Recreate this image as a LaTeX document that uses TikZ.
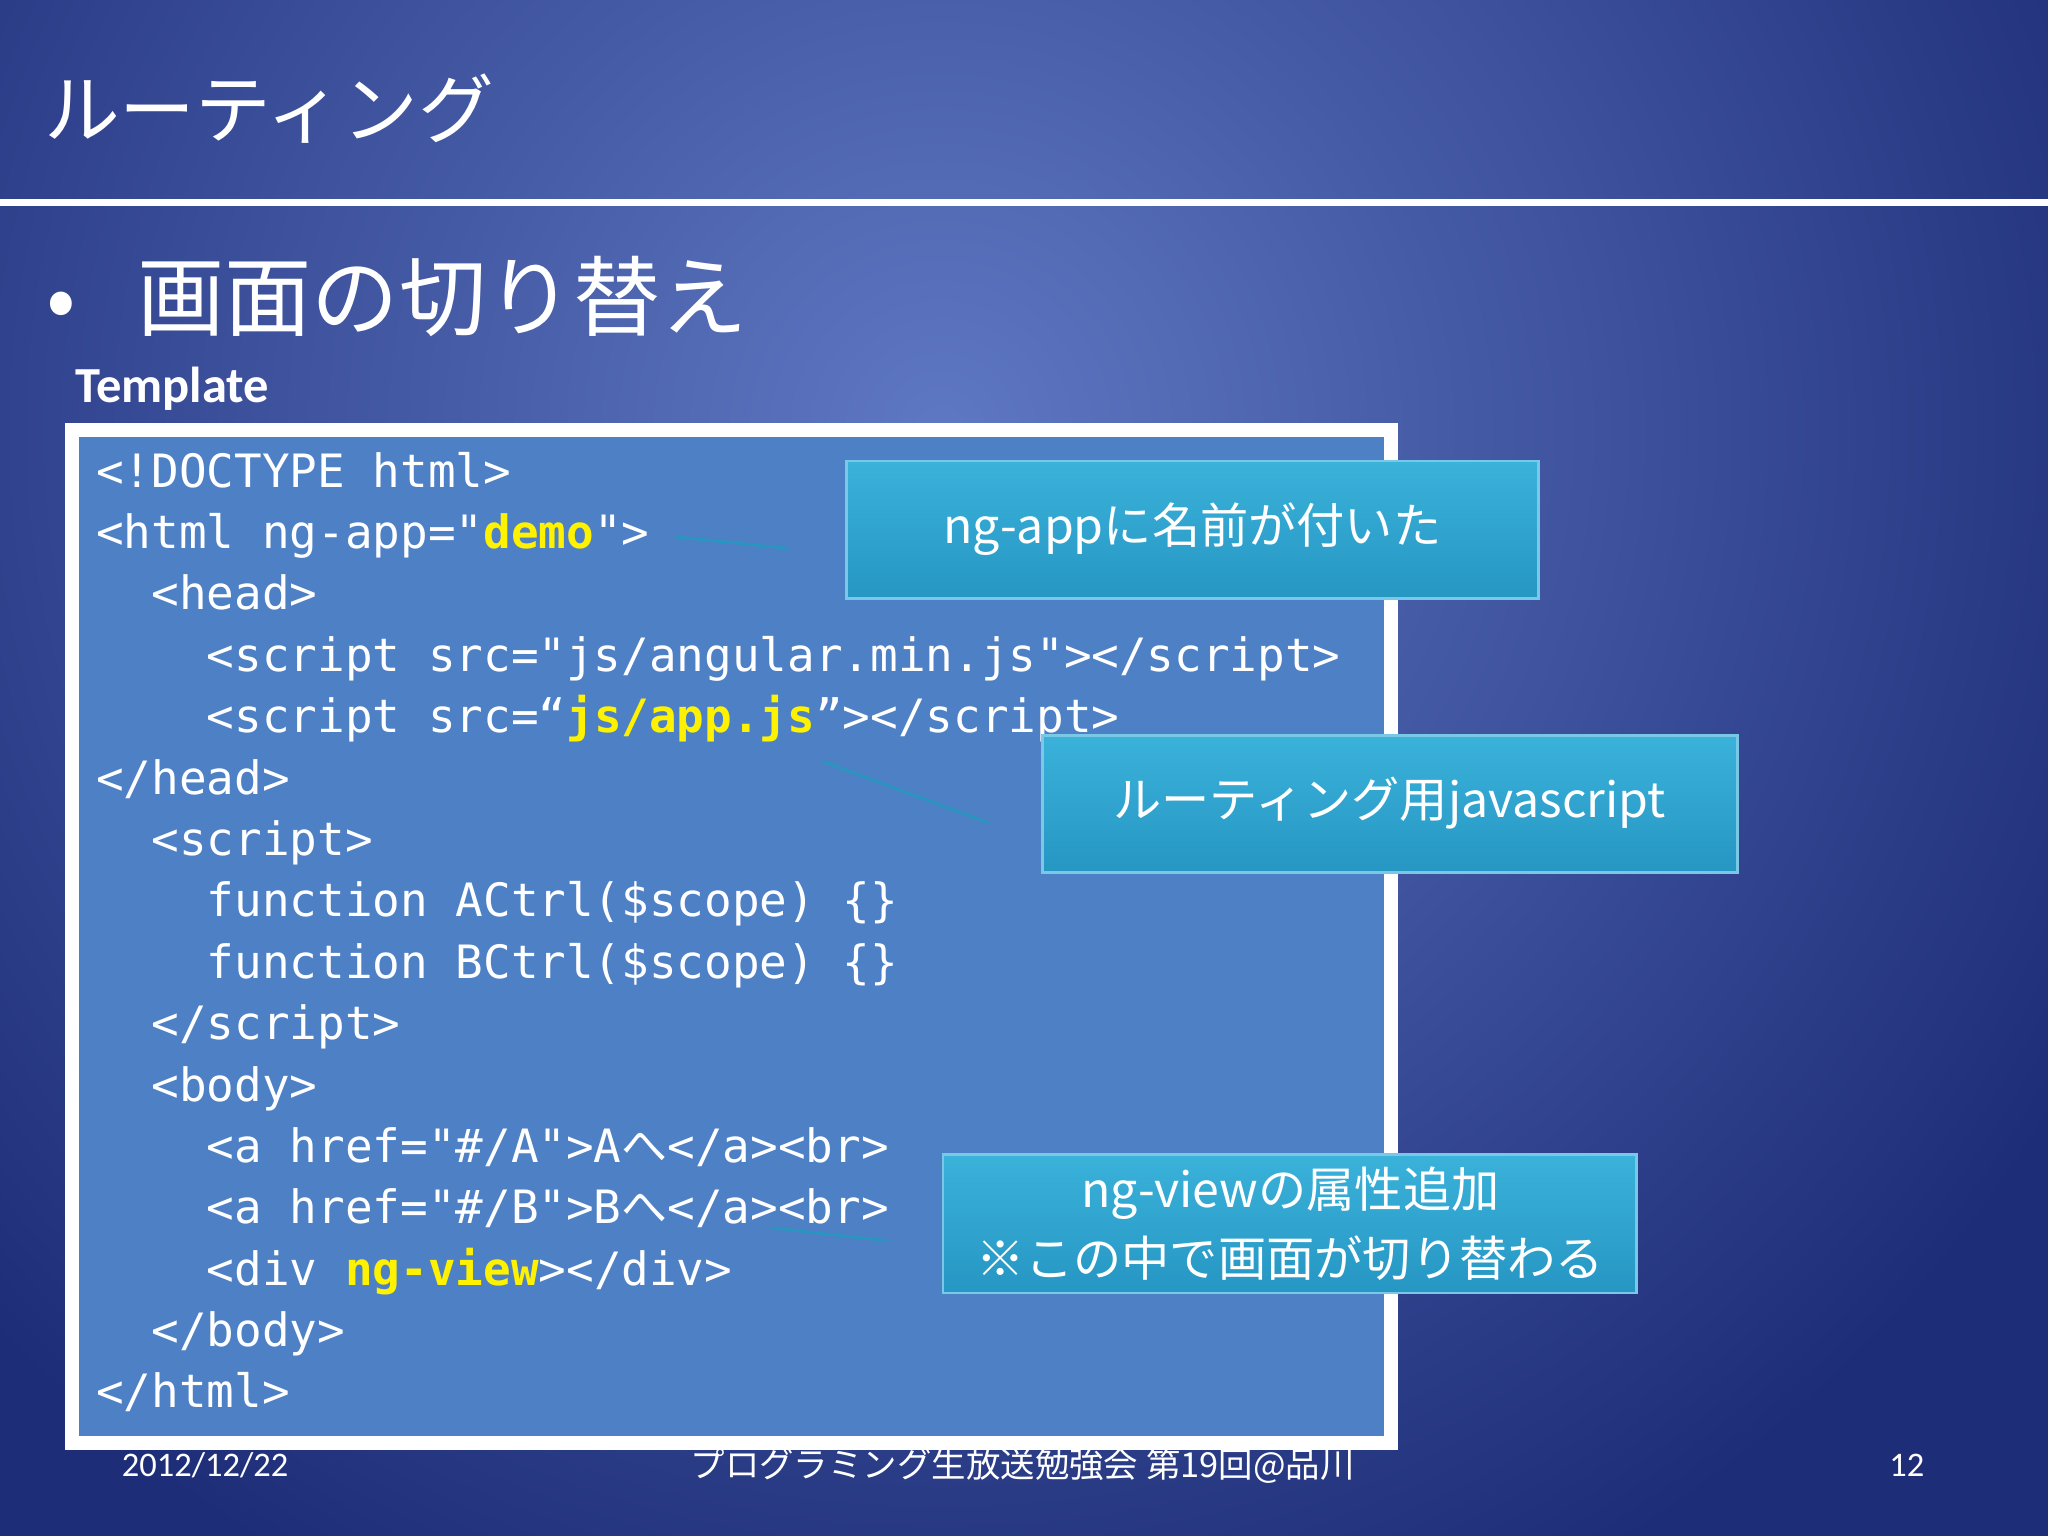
\documentclass[tikz,border=0pt]{standalone}
\usepackage{fontspec}
\setmainfont{Carlito}
\newfontfamily\jp{Noto Sans CJK JP}
\setmonofont{DejaVu Sans Mono}
\definecolor{bgdark}{RGB}{30,45,120}
\definecolor{bglight}{RGB}{95,120,195}
\definecolor{codebg}{RGB}{78,128,198}
\definecolor{caltop}{RGB}{58,178,218}
\definecolor{calbot}{RGB}{38,150,195}
\definecolor{calbd}{RGB}{120,200,230}
\definecolor{connc}{RGB}{40,150,190}
\begin{document}
\begin{tikzpicture}[x=0.01cm,y=-0.01cm,
  codeline/.style={anchor=base west,inner sep=0,text=white,font=\ttfamily\fontsize{10}{12}\selectfont},
  callout/.style={draw=calbd,line width=0.6pt,top color=caltop,bottom color=calbot},
  calltext/.style={text=white,align=center,font=\fontsize{10.5}{15}\selectfont\jp},
  conn/.style={draw=connc,line width=0.6pt}]
\useasboundingbox (0,0) rectangle (1568,1176);
\begin{scope}
\clip (0,0) rectangle (1568,1176);
\fill[bgdark] (0,0) rectangle (1568,1176);
\shade[inner color=bglight,outer color=bgdark] (720,330) circle (1000);
\end{scope}
\fill[white] (0,152) rectangle (1568,158);
\node[anchor=base west,text=white,inner sep=0,font=\jp\fontsize{16.5}{20}\selectfont] (title) at (33,105) {ルーティング};
\node[anchor=base west,text=white,inner sep=0,font=\jp\fontsize{19}{22}\selectfont] (bullet) at (35,252) {•\hspace{0.7em}画面の切り替え};
\node[anchor=base west,text=white,inner sep=0,font=\bfseries\fontsize{11}{13}\selectfont] (tpl) at (57,308) {Template};
\draw[white,line width=3pt,fill=codebg] (55,329) rectangle (1065,1105);
\node[codeline] (l1) at (73,373) {<!DOCTYPE html>};
\node[codeline] (l2) at (73,420) {<html ng-app="{\color{yellow}\bfseries demo}">};
\node[codeline] (l3) at (73,467) {\ \ <head>};
\node[codeline] (l4) at (73,514) {\ \ \ \ <script src="js/angular.min.js"></script>};
\node[codeline] (l5) at (73,561) {\ \ \ \ <script src=“{\color{yellow}\bfseries js/app.js}”></script>};
\node[codeline] (l6) at (73,608) {</head>};
\node[codeline] (l7) at (73,655) {\ \ <script>};
\node[codeline] (l8) at (73,702) {\ \ \ \ function ACtrl(\$scope) \{\}};
\node[codeline] (l9) at (73,749) {\ \ \ \ function BCtrl(\$scope) \{\}};
\node[codeline] (l10) at (73,796) {\ \ </script>};
\node[codeline] (l11) at (73,843) {\ \ <body>};
\node[codeline] (l12) at (73,890) {\ \ \ \ <a href="\#/A">A{\jp へ}</a><br>};
\node[codeline] (l13) at (73,937) {\ \ \ \ <a href="\#/B">B{\jp へ}</a><br>};
\node[codeline] (l14) at (73,984) {\ \ \ \ <div {\color{yellow}\bfseries ng-view}></div>};
\node[codeline] (l15) at (73,1031) {\ \ </body>};
\node[codeline] (l16) at (73,1078) {</html>};
\draw[callout] (648,353) rectangle (1178,458);
\node[calltext] (c1) at (913,405) {ng-app{\jp に名前が付いた}};
\draw[callout] (798,563) rectangle (1330,668);
\node[calltext] (c2) at (1064,615) {{\jp ルーティング用}javascript};
\draw[callout] (722,884) rectangle (1253,990);
\node[calltext] (c3) at (988,937) {ng-view{\jp の属性追加}\\{\jp ※この中で画面が切り替わる}};
\coordinate (a1) at (517,411); \coordinate (b1) at (605,420);
\coordinate (a2) at (630,583); \coordinate (b2) at (757,630);
\coordinate (a3) at (590,940); \coordinate (b3) at (680,950);
\draw[conn] (a1) -- (b1);
\draw[conn] (a2) -- (b2);
\draw[conn] (a3) -- (b3);
\node[text=white,font=\fontsize{7.5}{9}\selectfont] (date) at (157,1122) {2012/12/22};
\node[text=white,font=\jp\fontsize{7.5}{9}\selectfont] (foot) at (783,1122) {プログラミング生放送勉強会 第19回@品川};
\node[text=white,font=\fontsize{7.5}{9}\selectfont] (pg) at (1460,1122) {12};
\end{tikzpicture}
\end{document}
